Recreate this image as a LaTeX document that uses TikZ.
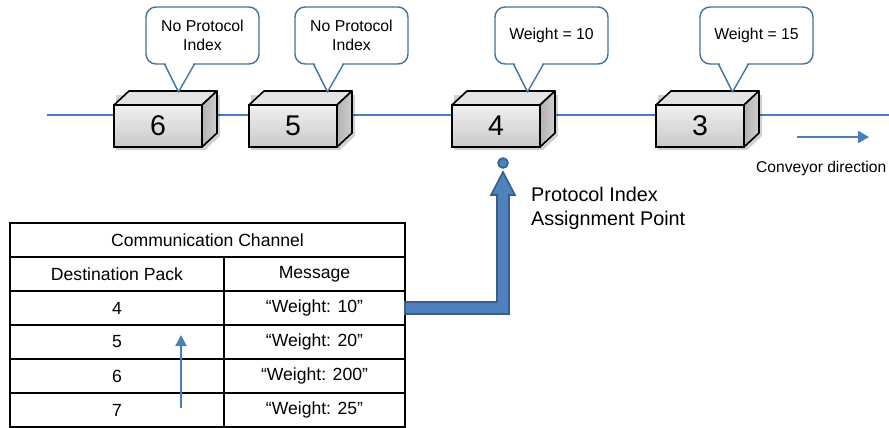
\documentclass[tikz,border=0pt]{standalone}
\usepackage{fontspec}
\setmainfont{Liberation Sans}
\usetikzlibrary{calc,arrows.meta}
\definecolor{lineblue}{RGB}{74,126,187}
\definecolor{callblue}{RGB}{65,113,156}
\definecolor{arrfill}{RGB}{79,129,189}
\definecolor{arrdraw}{RGB}{56,93,138}
\tikzset{
 cubefront/.style={draw=black, line width=1.6pt, outer sep=0pt, minimum width=88pt, minimum height=42pt, inner sep=0pt, top color=gray!12, bottom color=gray!42, font=\fontsize{28.5}{32}\selectfont},
 cubetop/.style={draw=black, line width=1.6pt, fill=gray!22, line join=round},
 cuberight/.style={draw=black, line width=1.6pt, left color=gray!60, right color=gray!38, line join=round},
 callbox/.style={draw=callblue, line width=1.4pt, fill=white, rounded corners=10pt, outer sep=0pt, minimum width=113pt, minimum height=57pt, inner sep=0pt, align=center, font=\fontsize{15.8}{18.5}\selectfont},
 callline/.style={draw=callblue, line width=1.4pt, line join=round},
 cell/.style={draw=black, line width=2pt, outer sep=0pt, minimum height=34pt, inner sep=0pt, font=\fontsize{17.6}{20}\selectfont},
 bigarrow/.style={fill=arrfill, draw=arrdraw, line width=1.6pt, line join=miter},
 thinarrow/.style={draw=lineblue, line width=2pt, -{Triangle[width=11pt,length=11pt]}},
}
\newcommand\mycube[3]{%
 \fill[black,opacity=.18] (#2-42,150) -- (#2+47,150) -- (#2+62,136) -- (#2+62,95) -- (#2-42,95) -- cycle;
 \node[cubefront] (#1) at (#2,126) {#3};
 \draw[cubetop] (#1.north west) -- ++(15,-14) -- ++(88,0) -- (#1.north east) -- cycle;
 \draw[cuberight] (#1.north east) -- ++(15,-14) -- ++(0,42) -- (#1.south east) -- cycle;
}
\newcommand\mycallout[3]{%
 \node[callbox] (#1) at (#2,35.5) {#3};
 \fill[white] ($(#1.south)+(-37,-1)$) -- ($(#1.south)+(-9,-1)$) -- ($(#1.south)+(-24,28)$) -- cycle;
 \draw[callline] ($(#1.south)+(-38,0)$) -- ($(#1.south)+(-24,28)$) -- ($(#1.south)+(-8,0)$);
}
\begin{document}
\begin{tikzpicture}[x=1pt,y=-1pt]
\useasboundingbox (0,0) rectangle (889,428);
% conveyor line
\coordinate (conv0) at (47,115);
\coordinate (conv1) at (889,115);
\draw[lineblue, line width=1.3pt] (conv0) -- (conv1);
% cubes
\mycube{b6}{158}{6}
\mycube{b5}{293}{5}
\mycube{b4}{496}{4}
\mycube{b3}{700}{3}
% callouts
\mycallout{c6}{202.5}{No Protocol\\Index}
\mycallout{c5}{351.5}{No Protocol\\Index}
\mycallout{c4}{551.5}{Weight = 10}
\mycallout{c3}{756.5}{Weight = 15}
% conveyor direction
\coordinate (cd0) at (797,137);
\coordinate (cd1) at (869,137);
\draw[draw=lineblue, line width=2.5pt, -{Triangle[width=12pt,length=11pt]}] (cd0) -- (cd1);
\node[anchor=west, inner sep=0pt, font=\fontsize{15.6}{19}\selectfont] (cdt) at (756,168) {Conveyor direction};
% table
\node[cell, minimum width=395pt] (title) at (207.5,240) {Communication Channel};
\node[cell, minimum width=214pt] (h1) at (117,274) {Destination Pack};
\node[cell, minimum width=181pt] (h2) at (314.5,274) {Message};
\node[cell, minimum width=214pt] (a4) at (117,308) {4};
\node[cell, minimum width=181pt] (m4) at (314.5,308) {“Weight: 10”};
\node[cell, minimum width=214pt] (a5) at (117,342) {5};
\node[cell, minimum width=181pt] (m5) at (314.5,342) {“Weight: 20”};
\node[cell, minimum width=214pt] (a6) at (117,376) {6};
\node[cell, minimum width=181pt] (m6) at (314.5,376) {“Weight: 200”};
\node[cell, minimum width=214pt] (a7) at (117,410) {7};
\node[cell, minimum width=181pt] (m7) at (314.5,410) {“Weight: 25”};
% small arrow in table
\coordinate (sa0) at (181,408);
\coordinate (sa1) at (181,335);
\draw[thinarrow] (sa0) -- (sa1);
% assignment point
\node[circle, fill=arrfill, draw=arrdraw, line width=1.5pt, minimum size=10pt, inner sep=0pt] (pt) at (503,163) {};
\draw[bigarrow] let \p1=(m4.east), \p2=(pt.center) in
 (\x1,\y1+6pt) -- (\x2-6pt,\y1+6pt) -- (\x2-6pt,\y2-32pt) -- (\x2-12pt,\y2-32pt) -- (\x2,\y2-9pt)
 -- (\x2+12pt,\y2-32pt) -- (\x2+6pt,\y2-32pt) -- (\x2+6pt,\y1-6pt) -- (\x1,\y1-6pt) -- cycle;
\node[anchor=west, inner sep=0pt, align=left, font=\fontsize{19.8}{24}\selectfont] (pia) at (531,208) {Protocol Index\\Assignment Point};
\end{tikzpicture}
\end{document}
